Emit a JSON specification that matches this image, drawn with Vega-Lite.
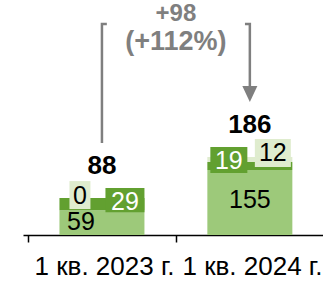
{
  "$schema": "https://vega.github.io/schema/vega-lite/v6.json",
  "autosize": "none",
  "width": 300,
  "height": 235,
  "padding": {"left": 23, "right": 0, "top": 0, "bottom": 46},
  "config": {"view": {"stroke": null}, "font": "Liberation Sans"},
  "datasets": {
    "segs": [
      {"q": "1 кв. 2023 г.", "slot": 0, "seg": "a", "value": 59},
      {"q": "1 кв. 2023 г.", "slot": 0, "seg": "b", "value": 29},
      {"q": "1 кв. 2023 г.", "slot": 0, "seg": "c", "value": 0},
      {"q": "1 кв. 2024 г.", "slot": 1, "seg": "a", "value": 155},
      {"q": "1 кв. 2024 г.", "slot": 1, "seg": "b", "value": 19},
      {"q": "1 кв. 2024 г.", "slot": 1, "seg": "c", "value": 12}
    ],
    "bracket": [
      {"g": "L", "o": 1, "x": 0, "y": 219},
      {"g": "L", "o": 2, "x": 0, "y": 503},
      {"g": "L", "o": 3, "x": 0.033, "y": 503},
      {"g": "R", "o": 1, "x": 0.967, "y": 503},
      {"g": "R", "o": 2, "x": 1, "y": 503},
      {"g": "R", "o": 3, "x": 1, "y": 355}
    ],
    "notes": [
      {"x": 0.5, "y": 555, "t": "+98", "s": "top"},
      {"x": 0.5, "y": 459, "t": "(+112%)", "s": "pct"}
    ],
    "arrow": [{"x": 1, "y": 336}]
  },
  "layer": [
    {
      "data": {"name": "segs"},
      "transform": [{"stack": "value", "groupby": ["slot"], "sort": [{"field": "seg", "order": "ascending"}], "as": ["v0", "v1"]}],
      "encoding": {
        "x": {"field": "slot", "type": "quantitative"},
        "y": {"field": "v1", "type": "quantitative"}
      },
      "layer": [
        {
          "mark": {"type": "bar", "width": 85},
          "encoding": {
            "x": {"field": "slot", "type": "quantitative",
              "scale": {"domain": [-0.5, 1.4608], "nice": false, "zero": false},
              "axis": {"values": [-0.5, 0.5], "title": null, "grid": false,
                "labelExpr": "datum.value < 0 ? '1 кв. 2023 г.' : '1 кв. 2024 г.'",
                "labelOffset": 76, "labelAlign": "center", "labelFontSize": 26, "labelColor": "#000000",
                "labelPadding": 11, "labelOverlap": false, "labelFlush": false, "labelBound": false,
                "domainColor": "#000000", "domainWidth": 1.5, "tickColor": "#000000", "tickWidth": 1.5, "tickSize": 7}},
            "y": {"field": "v0", "type": "quantitative", "scale": {"domain": [0, 560], "nice": false}, "axis": null},
            "y2": {"field": "v1"},
            "color": {"field": "seg", "type": "nominal", "legend": null,
              "scale": {"domain": ["a", "b", "c"], "range": ["#9dc97a", "#62a030", "#dfecce"]}}
          }
        },
        {
          "transform": [{"filter": "datum.slot == 0 && datum.seg == 'c'"}],
          "mark": {"type": "point", "filled": true, "opacity": 1, "size": 784, "shape": "M-0.75,-1H0.75V1H-0.75Z", "xOffset": -22, "yOffset": -3, "color": "#dfecce"}
        },
        {
          "transform": [{"filter": "datum.slot == 0 && datum.seg == 'b'"}],
          "mark": {"type": "point", "filled": true, "opacity": 1, "size": 1521, "shape": "M-1,-0.62H1V0.62H-1Z", "xOffset": 23, "yOffset": 2, "color": "#62a030"}
        },
        {
          "transform": [{"filter": "datum.slot == 1 && datum.seg == 'b'"}],
          "mark": {"type": "point", "filled": true, "opacity": 1, "size": 1369, "shape": "M-1,-0.7H1V0.7H-1Z", "xOffset": -21, "yOffset": -2, "color": "#62a030"}
        },
        {
          "transform": [{"filter": "datum.slot == 1 && datum.seg == 'c'"}],
          "mark": {"type": "point", "filled": true, "opacity": 1, "size": 1296, "shape": "M-1,-0.78H1V0.78H-1Z", "xOffset": 23, "yOffset": -4, "color": "#dfecce"}
        },
        {
          "transform": [{"filter": "datum.slot == 0 && datum.seg == 'a'"}],
          "mark": {"type": "text", "fontSize": 25, "baseline": "middle", "xOffset": -21, "yOffset": 12, "color": "#000000"},
          "encoding": {"text": {"field": "value", "type": "quantitative"}}
        },
        {
          "transform": [{"filter": "datum.slot == 0 && datum.seg == 'c'"}],
          "mark": {"type": "text", "fontSize": 25, "baseline": "middle", "xOffset": -22, "yOffset": -2, "color": "#000000"},
          "encoding": {"text": {"field": "value", "type": "quantitative"}}
        },
        {
          "transform": [{"filter": "datum.slot == 0 && datum.seg == 'b'"}],
          "mark": {"type": "text", "fontSize": 25, "baseline": "middle", "xOffset": 23, "yOffset": 4, "color": "#ffffff"},
          "encoding": {"text": {"field": "value", "type": "quantitative"}}
        },
        {
          "transform": [{"filter": "datum.slot == 1 && datum.seg == 'a'"}],
          "mark": {"type": "text", "fontSize": 25, "baseline": "middle", "yOffset": 30, "color": "#000000"},
          "encoding": {"text": {"field": "value", "type": "quantitative"}}
        },
        {
          "transform": [{"filter": "datum.slot == 1 && datum.seg == 'b'"}],
          "mark": {"type": "text", "fontSize": 25, "baseline": "middle", "xOffset": -21, "yOffset": -1, "color": "#ffffff"},
          "encoding": {"text": {"field": "value", "type": "quantitative"}}
        },
        {
          "transform": [{"filter": "datum.slot == 1 && datum.seg == 'c'"}],
          "mark": {"type": "text", "fontSize": 25, "baseline": "middle", "xOffset": 23, "yOffset": -4, "color": "#000000"},
          "encoding": {"text": {"field": "value", "type": "quantitative"}}
        }
      ]
    },
    {
      "data": {"name": "segs"},
      "mark": {"type": "text", "fontSize": 26, "fontWeight": "bold", "baseline": "middle", "yOffset": -32, "color": "#000000"},
      "encoding": {
        "x": {"field": "slot", "type": "quantitative"},
        "y": {"aggregate": "sum", "field": "value", "type": "quantitative"},
        "text": {"aggregate": "sum", "field": "value", "type": "quantitative"}
      }
    },
    {
      "data": {"name": "bracket"},
      "mark": {"type": "line", "color": "#7f7f7f", "strokeWidth": 2.5, "strokeCap": "butt", "strokeJoin": "miter"},
      "encoding": {
        "x": {"field": "x", "type": "quantitative"},
        "y": {"field": "y", "type": "quantitative"},
        "detail": {"field": "g"},
        "order": {"field": "o"}
      }
    },
    {
      "data": {"name": "arrow"},
      "mark": {"type": "point", "filled": true, "opacity": 1, "color": "#7f7f7f", "size": 256, "shape": "M-0.94,-1L0.94,-1L0,1Z"},
      "encoding": {
        "x": {"field": "x", "type": "quantitative"},
        "y": {"field": "y", "type": "quantitative"}
      }
    },
    {
      "data": {"name": "notes"},
      "transform": [{"filter": "datum.s == 'top'"}],
      "mark": {"type": "text", "fontWeight": "bold", "fontSize": 24, "baseline": "top", "color": "#7f7f7f"},
      "encoding": {
        "x": {"field": "x", "type": "quantitative"},
        "y": {"field": "y", "type": "quantitative"},
        "text": {"field": "t"}
      }
    },
    {
      "data": {"name": "notes"},
      "transform": [{"filter": "datum.s == 'pct'"}],
      "mark": {"type": "text", "fontWeight": "bold", "fontSize": 27, "baseline": "middle", "color": "#7f7f7f"},
      "encoding": {
        "x": {"field": "x", "type": "quantitative"},
        "y": {"field": "y", "type": "quantitative"},
        "text": {"field": "t"}
      }
    }
  ]
}
